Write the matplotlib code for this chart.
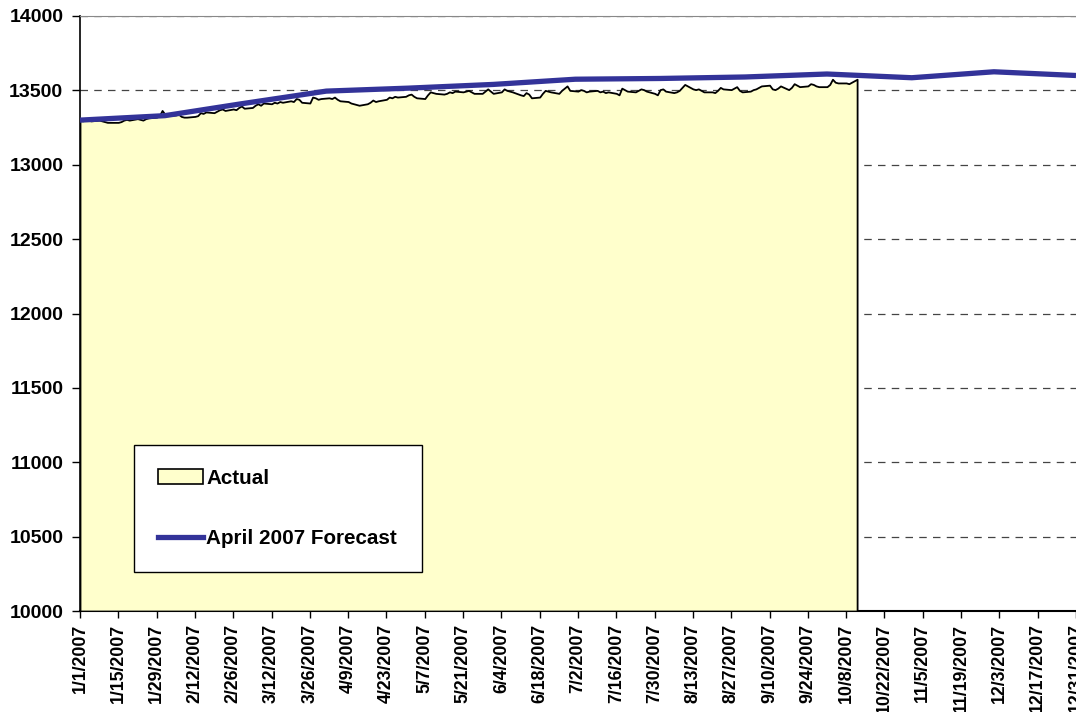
import matplotlib
matplotlib.use("Agg")
import matplotlib.pyplot as plt
from matplotlib.patches import Patch
from matplotlib.lines import Line2D
import pandas as pd

plt.rcParams['font.family'] = ['Liberation Sans', 'DejaVu Sans']
plt.rcParams['font.weight'] = 'bold'

# daily actual values (business days 1/1/2007 - 10/12/2007), one row per week
actual_values = [
    13300, 13295, 13305, 13300, 13295,
    13300, 13295, 13290, 13285, 13285,
    13285, 13290, 13300, 13305, 13300,
    13310, 13305, 13300, 13310, 13315,
    13320, 13330, 13365, 13340, 13330,
    13335, 13340, 13325, 13320, 13320,
    13325, 13330, 13350, 13345, 13355,
    13350, 13360, 13370, 13375, 13365,
    13375, 13370, 13385, 13395, 13380,
    13385, 13400, 13410, 13400, 13415,
    13410, 13420, 13415, 13425, 13420,
    13430, 13425, 13445, 13440, 13420,
    13415, 13455, 13450, 13440, 13445,
    13450, 13445, 13455, 13440, 13430,
    13425, 13415, 13410, 13405, 13400,
    13410, 13420, 13435, 13425, 13430,
    13440, 13455, 13450, 13460, 13455,
    13460, 13470, 13475, 13460, 13450,
    13445, 13470, 13490, 13485, 13480,
    13475, 13480, 13490, 13485, 13495,
    13490, 13495, 13500, 13490, 13480,
    13480, 13495, 13510, 13495, 13480,
    13490, 13510, 13500, 13495, 13490,
    13470, 13465, 13485, 13475, 13450,
    13455, 13480, 13500, 13495, 13490,
    13480, 13500, 13515, 13530, 13500,
    13495, 13505, 13500, 13490, 13495,
    13500, 13490, 13495, 13485, 13490,
    13480, 13470, 13515, 13505, 13495,
    13490, 13500, 13510, 13505, 13495,
    13480, 13470, 13505, 13510, 13495,
    13485, 13490, 13500, 13520, 13540,
    13510, 13505, 13510, 13500, 13490,
    13490, 13485, 13500, 13520, 13510,
    13505, 13515, 13525, 13500, 13490,
    13495, 13505, 13510, 13520, 13530,
    13535, 13510, 13505, 13515, 13530,
    13505, 13520, 13545, 13535, 13525,
    13530, 13545, 13540, 13530, 13525,
    13525, 13540, 13575, 13555, 13550,
    13550, 13545, 13555, 13565, 13575,
]
actual_dates = pd.bdate_range('2007-01-01', '2007-10-12')

forecast_dates = pd.to_datetime([
    '2007-01-01', '2007-02-01', '2007-03-01', '2007-04-01', '2007-05-01',
    '2007-06-01', '2007-07-01', '2007-08-01', '2007-09-01', '2007-10-01',
    '2007-11-01', '2007-12-01', '2007-12-31'])
forecast_values = [13300, 13330, 13410, 13495, 13515, 13540, 13575,
                   13580, 13590, 13610, 13585, 13625, 13600]

tick_dates = pd.date_range('2007-01-01', '2007-12-31', freq='14D')
tick_labels = [f"{d.month}/{d.day}/{d.year}" for d in tick_dates]

fig = plt.figure(figsize=(10.76, 7.12), dpi=100)
ax = fig.add_axes([80 / 1076, 101 / 712, 996 / 1076, 595 / 712])

ax.fill_between(actual_dates, 10000, actual_values, facecolor='#FFFFCC',
                edgecolor='black', linewidth=1.3, zorder=3)
ax.plot(forecast_dates, forecast_values, color='#333399', linewidth=3.8,
        zorder=4, solid_capstyle='butt')

ax.set_xlim(pd.Timestamp('2007-01-01'), pd.Timestamp('2007-12-31'))
ax.set_ylim(10000, 14000)
ax.set_yticks(range(10000, 14001, 500))
ax.set_xticks(tick_dates)
ax.set_xticklabels(tick_labels, rotation=90, fontsize=12.8, fontweight='bold')
ax.tick_params(axis='y', labelsize=14, direction='out', length=6, width=1, pad=6)
ax.tick_params(axis='x', direction='out', length=5, width=1, pad=4)
for lab in ax.get_yticklabels():
    lab.set_fontweight('bold')

ax.grid(axis='y', linestyle=(0, (6, 5)), color='#444444', linewidth=0.9, zorder=1)
ax.set_axisbelow(True)
ax.spines['right'].set_visible(False)
ax.spines['top'].set_color('#888888')
ax.spines['top'].set_linewidth(0.8)
ax.spines['left'].set_linewidth(1.2)
ax.spines['bottom'].set_linewidth(1.5)

# legend box: 288 px wide, its lower left corner at (134, 572) in the picture
handles = [Patch(facecolor='#FFFFCC', edgecolor='black', linewidth=1.2),
           Line2D([], [], color='#333399', linewidth=3.8)]
leg = ax.legend(handles, ['Actual', 'April 2007 Forecast'],
                loc='lower left', mode='expand',
                bbox_to_anchor=(54 / 996, 39 / 595, 288 / 996, 0.2),
                fancybox=False, framealpha=1, edgecolor='black',
                prop={'weight': 'bold', 'size': 14.9},
                borderpad=1.15, labelspacing=2.0, handlelength=2.2,
                handletextpad=0.15, borderaxespad=0)
leg.get_frame().set_linewidth(1.0)
leg.set_zorder(6)

fig.savefig('out.png', dpi=100)
